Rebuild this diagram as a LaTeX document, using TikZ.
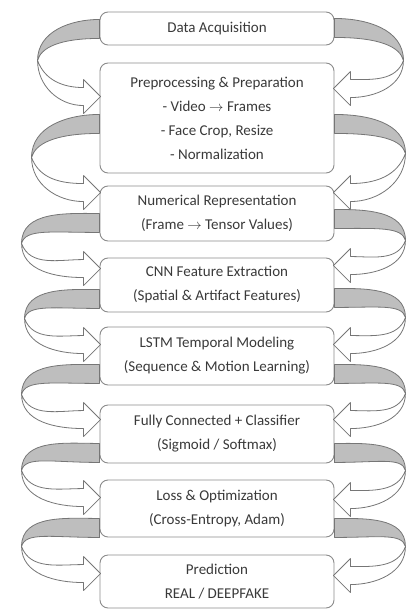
\documentclass[tikz,border=0pt]{standalone}
\usepackage{fontspec}
\setmainfont{Carlito}
\usepackage{tikz}
\usetikzlibrary{calc}

\definecolor{edgegray}{HTML}{767676}
\definecolor{bandgray}{HTML}{BEBEBE}
\definecolor{inkgray}{HTML}{3A3A3A}

% #1 side (west/east), #2 sign (1 left, -1 right), #3 from, #4 to,
% #5 raise of band, #6 reach, #7 drop of bend, #8 tip depth
\newcommand{\twistarrow}[8]{%
  \pgfmathsetmacro\rbOut{-(#2)*(#6)}%
  \pgfmathsetmacro\rbHead{-(#2)*17}%
  \pgfmathsetmacro\rbAway{90+90*(#2)}%
  \pgfmathsetmacro\rbUp{90-15*(#2)}%
  \pgfmathsetmacro\rbIn{-90+20*(#2)}%
  \coordinate (bb) at ($(#3.south #1)+(0,#5)$);
  \coordinate (bt) at ($(bb)+(0,19)$);
  \coordinate (lm) at ($(bb)+(\rbOut,-#7)$);
  \coordinate (tp) at ($(#4.north #1)+(#2,-#8)$);
  \coordinate (sa) at ($(tp)+(\rbHead,9)$);
  \coordinate (sb) at ($(tp)+(\rbHead,-9)$);
  \coordinate (ha) at ($(tp)+(\rbHead,17)$);
  \coordinate (hb) at ($(tp)+(\rbHead,-17)$);
  \draw [under] (lm) to[out=-90,in=\rbAway] (sb) -- (hb) -- (tp) -- (ha) -- (sa)
    to[out=\rbAway,in=\rbIn] (lm) -- cycle;
  \draw [band] (bt) to[out=\rbAway,in=90] (lm)
    to[out=\rbUp,in=\rbAway,out looseness=0.5,in looseness=1.6] (bb) -- cycle;
}

\begin{document}
\begin{tikzpicture}[x=1pt,y=1pt]
\tikzstyle{stage} = [draw=edgegray!85, line width=0.9pt, rounded corners=8pt, fill=white, minimum width=234pt, inner sep=0pt, align=center, text=inkgray, font=\fontsize{15}{24}\selectfont]
\tikzstyle{band} = [draw=edgegray, line width=0.8pt, fill=bandgray, line join=round]
\tikzstyle{under} = [draw=edgegray, line width=0.8pt, fill=white, line join=round]
\useasboundingbox (0,0) rectangle (406,-610);
\node [stage, minimum height=33pt] (b1) at (217,-28.5) {Data Acquisition};
\node [stage, minimum height=110pt] (b2) at (217,-118) {Preprocessing \& Preparation\\- Video $\rightarrow$ Frames\\- Face Crop, Resize\\- Normalization};
\node [stage, minimum height=55pt] (b3) at (217,-213.5) {Numerical Representation\\(Frame $\rightarrow$ Tensor Values)};
\node [stage, minimum height=54pt] (b4) at (217,-285) {CNN Feature Extraction\\(Spatial \& Artifact Features)};
\node [stage, minimum height=58pt] (b5) at (217,-356) {LSTM Temporal Modeling\\(Sequence \& Motion Learning)};
\node [stage, minimum height=58pt] (b6) at (217,-434) {Fully Connected + Classifier\\(Sigmoid / Softmax)};
\node [stage, minimum height=57pt] (b7) at (217,-508.5) {Loss \& Optimization\\(Cross-Entropy, Adam)};
\node [stage, minimum height=53pt] (b8) at (217,-581.5) {Prediction\\REAL / DEEPFAKE};
% left side
\twistarrow{west}{1}{b1}{b2}{7}{62}{22}{34}
\twistarrow{west}{1}{b2}{b3}{40}{68}{24}{7}
\twistarrow{west}{1}{b3}{b4}{9}{78}{11}{11}
\twistarrow{west}{1}{b4}{b5}{4}{75}{10}{18}
\twistarrow{west}{1}{b5}{b6}{2}{78}{11}{15}
\twistarrow{west}{1}{b6}{b7}{1}{78}{8}{18}
\twistarrow{west}{1}{b7}{b8}{0}{78}{9}{19}
% right side
\twistarrow{east}{-1}{b1}{b2}{8}{69}{23}{26}
\twistarrow{east}{-1}{b2}{b3}{40}{71}{20}{7}
\twistarrow{east}{-1}{b3}{b4}{13}{71}{12}{8}
\twistarrow{east}{-1}{b4}{b5}{5}{71}{10}{18}
\twistarrow{east}{-1}{b5}{b6}{2}{71}{10}{15}
\twistarrow{east}{-1}{b6}{b7}{1}{71}{8}{20}
\twistarrow{east}{-1}{b7}{b8}{0}{71}{9}{21}
\end{tikzpicture}
\end{document}
